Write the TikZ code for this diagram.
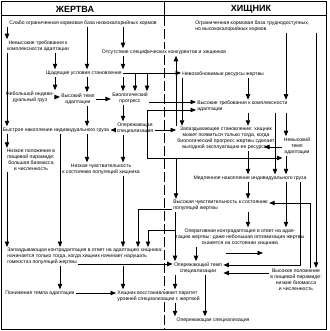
\documentclass[tikz,border=0pt]{standalone}
\usepackage{fontspec}
\setmainfont{Liberation Sans}
\usetikzlibrary{arrows.meta}
\newcommand{\vconn}[3]{\draw[arr] (#1.south -| #3) -- (#2.north -| #3);}
\begin{document}
\begin{tikzpicture}[x=1pt,y=-1pt,
 txt/.style={inner sep=0.4pt, outer sep=1pt, font=\fontsize{5.1}{6}\selectfont, align=center},
 hdr/.style={inner sep=0pt, font=\fontsize{9}{10}\selectfont\bfseries},
 arr/.style={draw, line width=0.8pt, -{Triangle[length=5.5pt,width=4.4pt]}},
 ln/.style={draw, line width=0.8pt}]
\useasboundingbox (0,0) rectangle (329,331);
\fill[white] (0,0) rectangle (329,331);
% columns and rows
\foreach \c in {7,55,60,87,123,135,138,147,148,175,176,182,196,205,248,275,286,300,310,316}
  {\coordinate (c\c) at (\c,0);}
\foreach \r in {102,130,147,203,209,265,273}
  {\coordinate (r\r) at (0,\r);}
\coordinate (j1) at (147,110);
\coordinate (j2) at (147,158);
\coordinate (zsE) at (264,147);
\coordinate (b230) at (175,230);
\coordinate (fa1) at (226,253);
\coordinate (fa2) at (263,253);
\coordinate (zk3) at (78,264);
% frame and header
\draw[line width=1.4pt] (1.5,1.5) rectangle (326.5,329.5);
\draw[line width=1pt] (1.5,16) -- (326.5,16);
\draw[line width=1pt] (164,1.5) -- (164,16);
\draw[line width=0.9pt, dash pattern=on 10pt off 3pt] (164,16) -- (164,329.5);
\node[hdr] (zhertva) at (75,9) {ЖЕРТВА};
\node[hdr] (khishnik) at (251,9) {ХИЩНИК};
% prey column
\node[txt] (slabo) at (83,23) {Слабо ограниченная кормовая база низкокалорийных кормов};
\node[txt] (nevys) at (38,46) {Невысокие требования к\\комплексности адаптации};
\node[txt, fill=white] (otsut) at (164,52) {Отсутствие специфических конкурентов и хищников};
\node[txt] (shchad) at (84,73) {Щадящие условия становления};
\node[txt] (nebol) at (30,97) {Небольшой индиви-\\дуальный груз};
\node[txt] (vystemp) at (78,99) {Высокий темп\\адаптации};
\node[txt] (bioprog) at (130,98) {Биологический\\прогресс};
\node[txt] (bystr) at (56,130) {Быстрое накопление индивидуального груза};
\node[txt] (operspec) at (135,128) {Опережающая\\специализация};
\node[txt] (nizkpol) at (31,160) {Низкое положение в\\пищевой пирамиде:\\большая биомасса\\и численность};
\node[txt] (nizkchuv) at (101,169) {Низкая чувствительность\\к состоянию популяций хищника};
\node[txt, align=left, anchor=north west] (zapkontr) at (6,247) {Запаздывающая контрадаптация в ответ на адаптацию хищника:\\начинается только тогда, когда хищник начинает нарушать\\гомеостаз популяций жертвы};
\node[txt] (ponizh) at (40,293) {Понижение темпа адаптации};
\node[txt, align=left, anchor=west, fill=white] (khishvos) at (116,296) {Хищник восстанавливает паритет\\уровней специализации с жертвой};
% predator column
\node[txt, align=left, anchor=west] (ogran) at (194,26) {Ограниченная кормовая база труднодоступных,\\но высококалорийных кормов};
\node[txt, anchor=west] (nevozob) at (181,74) {Невозобновимые ресурсы жертвы};
\node[txt, align=left, anchor=west] (vystreb) at (196,106.5) {Высокие требования к комплексности\\адаптации};
\node[txt] (zapstan) at (226,138.5) {Запаздывающее становление: хищник\\может появиться только тогда, когда\\биологический прогресс жертвы сделает\\выгодной эксплуатацию ее ресурсов};
\node[txt] (nevystemp) at (297,146) {Невысокий\\темп\\адаптации};
\node[txt] (medl) at (250,178) {Медленное накопление индивидуального груза};
\node[txt, align=left, anchor=west] (vyschuv) at (172,205.5) {Высокая чувствительность к состоянию\\популяций жертвы};
\node[txt] (operkontr) at (240,237) {Оперативная контрадаптация в ответ на адап-\\тацию жертвы: даже небольшая оптимизация жертвы\\скажется на состоянии хищника};
\node[txt] (opertemp) at (198,268) {Опережающий темп\\специализации};
\node[txt] (vyspol) at (296,280) {Высокое положение\\в пищевой пирамиде:\\низкие биомасса\\и численность};
\node[txt] (operspec2) at (213,320) {Опережающая специализация};
% connectors, prey side
\vconn{slabo}{nevys}{c7}
\vconn{nevys}{bystr}{c7}
\vconn{nevys}{shchad}{c55}
\vconn{slabo}{shchad}{c87}
\vconn{slabo}{otsut}{c123}
\vconn{otsut}{shchad}{c123}
\vconn{shchad}{nebol}{c55}
\vconn{shchad}{vystemp}{c87}
\vconn{shchad}{bioprog}{c123}
\draw[arr] (shchad.east) -- (shchad.east -| nevozob.west);
\draw[arr] (shchad.east -| c135) -- (bioprog.north -| c135);
\draw[arr] (shchad.east -| c147) -- (bioprog.north -| c147);
\draw[arr] (nebol.east) -- (nebol.east -| vystemp.west);
\draw[arr] (vystemp.east) -- (vystemp.east -| bioprog.west);
\vconn{vystemp}{bystr}{c87}
\draw[arr] (bioprog.east |- r102) -- (vystreb.west |- r102);
\vconn{bioprog}{operspec}{c123}
\draw[arr] (operspec.west |- r130) -- (bystr.east |- r130);
\draw[arr] (operspec.east |- r130) -- (zapstan.west |- r130);
\draw[ln] (j1) -- (j2);
\draw[arr] (j1) -- (j1 -| vystreb.west);
\draw[arr] (j2) -- (j2 -| nevystemp.west);
\draw[arr] (j2 -| c176) -- (vyschuv.north -| c176);
\vconn{bystr}{nizkpol}{c7}
\vconn{bystr}{zapkontr}{c60}
\vconn{bystr}{nizkchuv}{c87}
\vconn{operspec}{nizkchuv}{c123}
\vconn{nizkchuv}{zapkontr}{c123}
\vconn{nizkpol}{zapkontr}{c7}
\vconn{zapkontr}{ponizh}{c60}
\vconn{zapkontr}{khishvos}{c123}
\draw[arr] (ponizh.east) -- (ponizh.east -| khishvos.west);
\draw[arr] (zk3) -- (opertemp.west |- zk3);
% connectors, predator side
\draw[arr] (zapstan.north -| c176) -- (otsut.south -| c176);
\vconn{nevozob}{zapstan}{c182}
\vconn{nevozob}{vystreb}{c248}
\vconn{ogran}{vystreb}{c286}
\vconn{ogran}{vyspol}{c316}
\vconn{vystreb}{zapstan}{c248}
\vconn{vystreb}{nevystemp}{c286}
\vconn{vystreb}{medl}{c275}
\draw[arr] (nevystemp.west |- r147) -- (zsE);
\vconn{nevystemp}{medl}{c286}
\vconn{zapstan}{medl}{c248}
\vconn{medl}{vyschuv}{c248}
\vconn{medl}{operkontr}{c286}
\draw[arr] (medl.south -| c300) |- (opertemp.east |- r265);
\draw[arr] (vyspol.north -| c310) |- (vyschuv.east |- r203);
\draw[arr] (vyspol.west |- r273) -- (opertemp.east |- r273);
\vconn{vyschuv}{operkontr}{c248}
\draw[arr] (vyschuv.west |- r209) -| (zapkontr.north -| c138);
\vconn{vyschuv}{opertemp}{c175}
\draw[arr] (b230) -| (zapkontr.north -| c148);
\vconn{operkontr}{opertemp}{c196}
\draw[arr] (fa1) -- (fa2);
\vconn{opertemp}{khishvos}{c175}
\vconn{khishvos}{operspec2}{c175}
\vconn{opertemp}{operspec2}{c205}
\end{tikzpicture}
\end{document}
